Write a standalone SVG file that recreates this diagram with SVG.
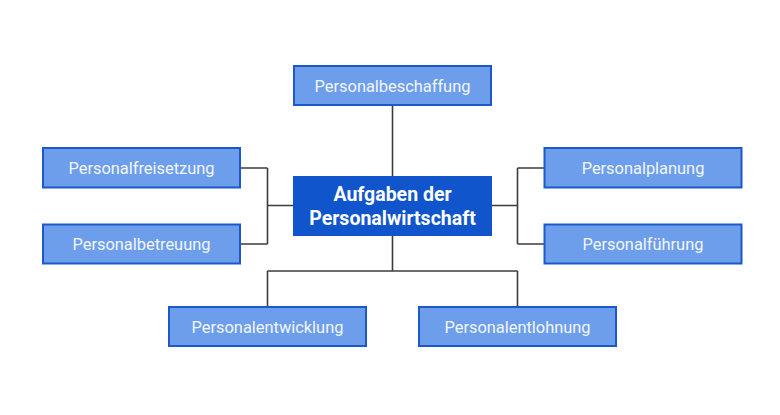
<svg xmlns="http://www.w3.org/2000/svg" width="780" height="415" viewBox="0 0 780 415">
<style>
.box{fill:#6d9eeb;stroke:#1c58c9;stroke-width:2}
.lbl{font-family:Roboto,"Liberation Sans",sans-serif;font-size:16.4px;fill:#f3f6fd;text-anchor:middle;dominant-baseline:central}
.main{fill:#1155cc;stroke:#1155cc;stroke-width:1}
.mlbl{font-family:Roboto,"Liberation Sans",sans-serif;font-size:19.5px;font-weight:bold;fill:#ffffff;text-anchor:middle;dominant-baseline:central}
.con{fill:none;stroke:#3c3c3c;stroke-width:1.6}
</style>
<rect width="780" height="415" fill="#ffffff"/>
<g id="connectors">
<path class="con" d="M392.5 105.5 V176"/>
<path class="con" d="M293 205.5 H267.5 M267.5 168 V244 M241 168 H267.5 M241 244 H267.5"/>
<path class="con" d="M492 205.5 H517.5 M517.5 168 V244 M517.5 168 H544 M517.5 244 H544"/>
<path class="con" d="M392.5 235.5 V271 M267.5 271 H517.5 M267.5 271 V306.5 M517.5 271 V306.5"/>
</g>
<g id="center">
<rect class="main" x="293.5" y="176.5" width="198" height="59"/>
<text class="mlbl" x="392.5" y="194.5">Aufgaben der</text>
<text class="mlbl" x="392.5" y="218">Personalwirtschaft</text>
</g>
<g id="beschaffung">
<rect class="box" x="294" y="66" width="197" height="39"/>
<text class="lbl" x="392.5" y="86">Personalbeschaffung</text>
</g>
<g id="freisetzung">
<rect class="box" x="43" y="148" width="197" height="39.5"/>
<text class="lbl" x="141.5" y="168">Personalfreisetzung</text>
</g>
<g id="betreuung">
<rect class="box" x="43" y="224.5" width="197" height="39"/>
<text class="lbl" x="141.5" y="244">Personalbetreuung</text>
</g>
<g id="planung">
<rect class="box" x="544.5" y="148" width="197" height="39.5"/>
<text class="lbl" x="643" y="168">Personalplanung</text>
</g>
<g id="fuehrung">
<rect class="box" x="544.5" y="224.5" width="197" height="39"/>
<text class="lbl" x="643" y="244">Personalführung</text>
</g>
<g id="entwicklung">
<rect class="box" x="169" y="307" width="197" height="39"/>
<text class="lbl" x="267.5" y="327">Personalentwicklung</text>
</g>
<g id="entlohnung">
<rect class="box" x="419" y="307" width="197" height="39"/>
<text class="lbl" x="517.5" y="327">Personalentlohnung</text>
</g>
</svg>
